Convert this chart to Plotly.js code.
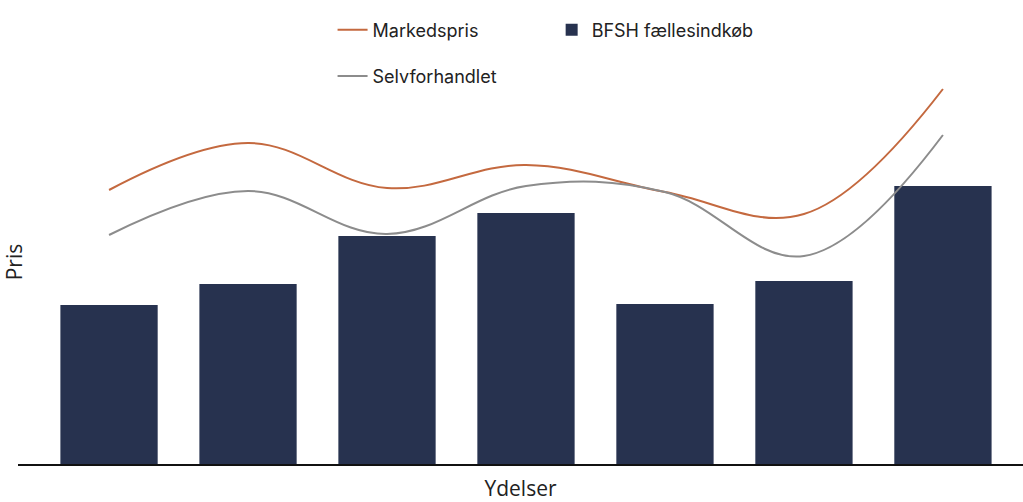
<!DOCTYPE html>
<html>
<head>
<meta charset="utf-8">
<script src="https://cdn.plot.ly/plotly-3.0.1.min.js"></script>
<style>html,body{margin:0;padding:0;background:#fff;}#chart{width:1023px;height:502px;}</style>
</head>
<body>
<div id="chart"></div>
<script>
const categories = ["Ydelse 1","Ydelse 2","Ydelse 3","Ydelse 4","Ydelse 5","Ydelse 6","Ydelse 7"];
const bfshValues = [159, 180, 228, 251, 160, 183, 278];
const markedsprisValues = [274, 321, 276, 299, 272, 250, 375];
const selvforhandletValues = [229, 273, 230, 278, 272, 208, 329];

const traces = [
  {
    type: "bar", name: "BFSH fællesindkøb", x: categories, y: bfshValues,
    marker: {color: "#27324f"}, width: 0.7, legend: "legend2"
  },
  {
    type: "scatter", mode: "lines", name: "Markedspris", x: categories, y: markedsprisValues,
    line: {color: "#c4693f", width: 2, shape: "spline", smoothing: 1.1}, legend: "legend", legendgroup: "a"
  },
  {
    type: "scatter", mode: "lines", name: "Selvforhandlet", x: categories, y: selvforhandletValues,
    line: {color: "#8c8c8c", width: 2, shape: "spline", smoothing: 1.1}, legend: "legend", legendgroup: "b"
  }
];

const layout = {
  width: 1023, height: 502,
  margin: {l: 18, r: 0, t: 60, b: 38},
  paper_bgcolor: "#fff", plot_bgcolor: "#fff",
  font: {family: "Inter, Open Sans, sans-serif", color: "#222"},
  showlegend: true,
  legend: {
    x: 0.313, y: 1.12, xanchor: "left", yanchor: "top",
    orientation: "v", traceorder: "grouped", tracegroupgap: 20,
    font: {size: 18, color: "#222"}, bgcolor: "rgba(0,0,0,0)"
  },
  legend2: {
    x: 0.531, y: 1.12, xanchor: "left", yanchor: "top",
    font: {size: 18, color: "#222"}, bgcolor: "rgba(0,0,0,0)"
  },
  xaxis: {
    type: "category", range: [-0.655, 6.576], showticklabels: false, ticks: "",
    showgrid: false, zeroline: false, showline: true, linecolor: "#111", linewidth: 2,
    title: {text: "Ydelser", font: {family: "Open Sans, sans-serif", size: 21, color: "#222"}, standoff: 24}, fixedrange: true
  },
  yaxis: {
    range: [0, 404], showticklabels: false, ticks: "", showgrid: false, zeroline: false,
    showline: false, automargin: false,
    title: {text: "Pris", font: {family: "Open Sans, sans-serif", size: 21, color: "#222"}, standoff: 0}, fixedrange: true
  }
};

Plotly.newPlot("chart", traces, layout, {displayModeBar: false, staticPlot: true});
</script>
</body>
</html>
